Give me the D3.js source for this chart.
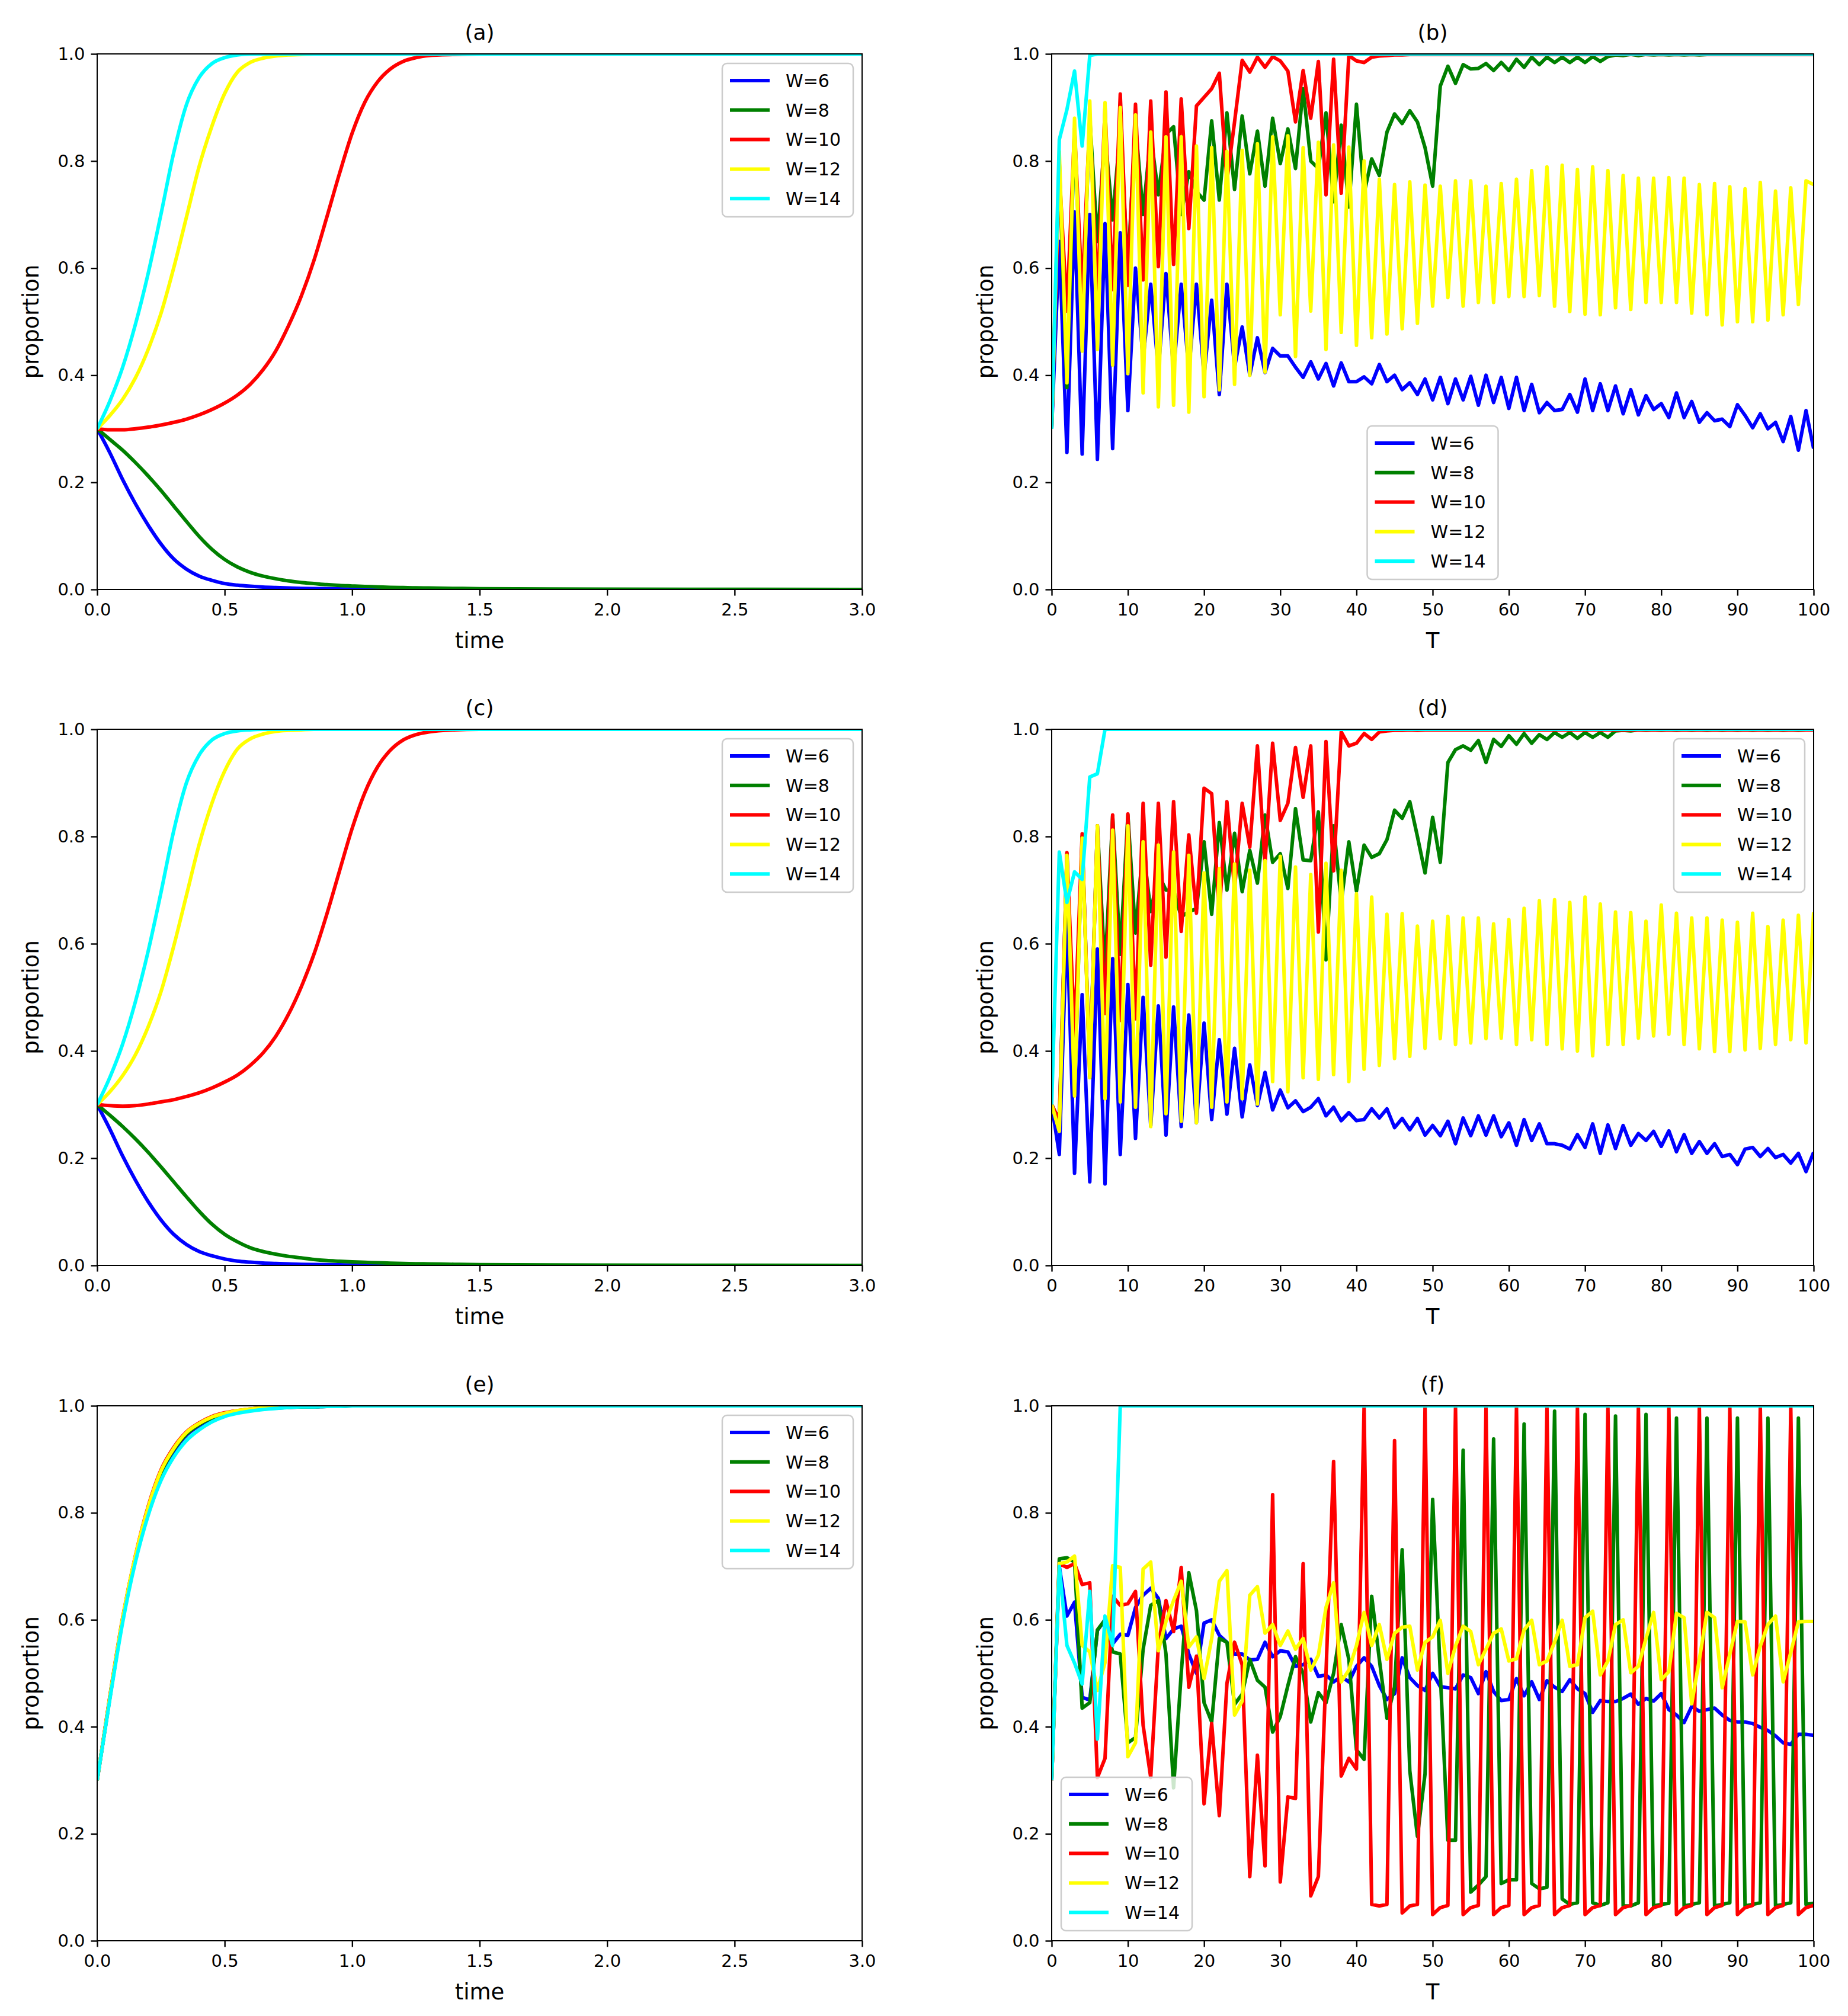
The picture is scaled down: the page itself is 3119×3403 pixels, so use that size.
<!DOCTYPE html>
<html>
<head>
<meta charset="utf-8">
<script src="https://cdn.jsdelivr.net/npm/d3@7"></script>
<style>
  body { margin: 0; background: #fff; }
  text { font-family: "DejaVu Sans", sans-serif; }
</style>
</head>
<body>
<div class="chart"></div>
<script>
// ---- data ----
var seriesLabels = ["W=6", "W=8", "W=10", "W=12", "W=14"];
var seriesColors = ["#0000ff", "#008000", "#ff0000", "#ffff00", "#00ffff"];

var timeTicks = [0, 0.5, 1.0, 1.5, 2.0, 2.5, 3.0];
var stepTicks = [0, 10, 20, 30, 40, 50, 60, 70, 80, 90, 100];
var yTicks = [0, 0.2, 0.4, 0.6, 0.8, 1.0];

// sample times for the continuous panels (a), (c), (e)
var tGrid = [0, 0.05, 0.1, 0.15, 0.2, 0.25, 0.3, 0.35, 0.4, 0.45, 0.5, 0.55, 0.6, 0.65, 0.7, 0.75,
    0.8, 0.85, 0.9, 0.95, 1.0, 1.05, 1.1, 1.15, 1.2, 1.25, 1.3, 1.4, 1.5, 2.0, 2.5, 3.0];

// (a)
var aBlue = [0.30, 0.255, 0.205, 0.16, 0.12, 0.085, 0.057, 0.038, 0.025, 0.017, 0.011, 0.008, 0.006, 0.0045, 0.0035, 0.0027,
    0.002, 0.0016, 0.0013, 0.001, 0.0008, 0.0006, 0.0005, 0.0004, 0.0003, 0.0002, 0.0002, 0.0001, 0.0001, 0, 0, 0];
var aGreen = [0.30, 0.28, 0.26, 0.237, 0.212, 0.185, 0.156, 0.127, 0.099, 0.075, 0.056, 0.042, 0.032, 0.025, 0.020, 0.016,
    0.013, 0.011, 0.009, 0.0075, 0.0065, 0.0055, 0.0048, 0.004, 0.0035, 0.003, 0.0027, 0.002, 0.0015, 0.0005, 0.0002, 0.0001];
var aRed = [0.30, 0.298, 0.298, 0.30, 0.303, 0.307, 0.312, 0.318, 0.326, 0.336, 0.348, 0.363, 0.383, 0.41, 0.445, 0.492,
    0.547, 0.614, 0.694, 0.776, 0.852, 0.91, 0.948, 0.972, 0.986, 0.993, 0.997, 0.999, 1.0, 1.0, 1.0, 1.0];
var aYellow = [0.30, 0.325, 0.355, 0.395, 0.448, 0.515, 0.60, 0.695, 0.79, 0.865, 0.926, 0.966, 0.984, 0.992, 0.996, 0.998,
    0.999, 1, 1, 1, 1, 1, 1, 1, 1, 1, 1, 1, 1, 1, 1, 1];
var aCyan = [0.30, 0.352, 0.415, 0.495, 0.59, 0.70, 0.815, 0.905, 0.956, 0.982, 0.993, 0.998, 1, 1, 1, 1,
    1, 1, 1, 1, 1, 1, 1, 1, 1, 1, 1, 1, 1, 1, 1, 1];

// (c)
var cBlue = [0.30, 0.254, 0.204, 0.159, 0.119, 0.085, 0.058, 0.039, 0.026, 0.018, 0.012, 0.008, 0.006, 0.0045, 0.0035, 0.0027,
    0.002, 0.0016, 0.0013, 0.001, 0.0008, 0.0006, 0.0005, 0.0004, 0.0003, 0.0002, 0.0002, 0.0001, 0.0001, 0, 0, 0];
var cGreen = [0.30, 0.28, 0.259, 0.236, 0.211, 0.184, 0.156, 0.128, 0.101, 0.077, 0.058, 0.044, 0.033, 0.026, 0.021, 0.017,
    0.014, 0.011, 0.009, 0.0078, 0.0067, 0.0057, 0.005, 0.0042, 0.0036, 0.0031, 0.0028, 0.002, 0.0015, 0.0005, 0.0002, 0.0001];
var cRed = [0.30, 0.298, 0.297, 0.298, 0.301, 0.305, 0.309, 0.315, 0.322, 0.331, 0.342, 0.355, 0.373, 0.396, 0.427, 0.468,
    0.519, 0.58, 0.654, 0.735, 0.815, 0.882, 0.93, 0.961, 0.98, 0.99, 0.995, 0.999, 1.0, 1.0, 1.0, 1.0];
var cYellow = [0.30, 0.324, 0.354, 0.393, 0.445, 0.51, 0.595, 0.69, 0.785, 0.862, 0.922, 0.963, 0.982, 0.991, 0.996, 0.998,
    0.999, 1, 1, 1, 1, 1, 1, 1, 1, 1, 1, 1, 1, 1, 1, 1];
var cCyan = [0.30, 0.351, 0.413, 0.492, 0.586, 0.695, 0.81, 0.90, 0.952, 0.98, 0.992, 0.997, 0.999, 1, 1, 1,
    1, 1, 1, 1, 1, 1, 1, 1, 1, 1, 1, 1, 1, 1, 1, 1];

// (e)
var eBlue = [0.30, 0.455, 0.60, 0.715, 0.805, 0.872, 0.915, 0.945, 0.963, 0.976, 0.984, 0.989, 0.992, 0.994, 0.996, 0.997,
    0.998, 0.998, 0.999, 0.999, 1, 1, 1, 1, 1, 1, 1, 1, 1, 1, 1, 1];
var eGreen = [0.30, 0.456, 0.601, 0.717, 0.807, 0.875, 0.918, 0.947, 0.965, 0.977, 0.985, 0.99, 0.993, 0.995, 0.996, 0.997,
    0.998, 0.998, 0.999, 0.999, 1, 1, 1, 1, 1, 1, 1, 1, 1, 1, 1, 1];
var eRed = [0.30, 0.458, 0.604, 0.72, 0.812, 0.88, 0.922, 0.951, 0.968, 0.98, 0.987, 0.991, 0.994, 0.996, 0.997, 0.998,
    0.999, 0.999, 1, 1, 1, 1, 1, 1, 1, 1, 1, 1, 1, 1, 1, 1];
var eYellow = [0.30, 0.457, 0.603, 0.719, 0.81, 0.878, 0.92, 0.95, 0.967, 0.979, 0.986, 0.991, 0.994, 0.996, 0.997, 0.998,
    0.999, 0.999, 1, 1, 1, 1, 1, 1, 1, 1, 1, 1, 1, 1, 1, 1];
var eCyan = [0.30, 0.452, 0.595, 0.708, 0.795, 0.86, 0.904, 0.935, 0.955, 0.97, 0.98, 0.986, 0.99, 0.993, 0.995, 0.997,
    0.998, 0.998, 0.999, 0.999, 1, 1, 1, 1, 1, 1, 1, 1, 1, 1, 1, 1];

// (b) one value per step T = 0..100
var bBlue = [0.30, 0.65, 0.256, 0.705, 0.253, 0.70, 0.243, 0.683, 0.263, 0.666,
    0.334, 0.60, 0.43, 0.57, 0.41, 0.59, 0.41, 0.57, 0.41, 0.57,
    0.40, 0.54, 0.364, 0.57, 0.415, 0.49, 0.40, 0.47, 0.405, 0.45,
    0.436, 0.436, 0.415, 0.396, 0.425, 0.393, 0.422, 0.38, 0.423, 0.388,
    0.388, 0.397, 0.384, 0.42, 0.388, 0.40, 0.373, 0.386, 0.364, 0.393,
    0.354, 0.396, 0.347, 0.393, 0.354, 0.398, 0.344, 0.40, 0.349, 0.396,
    0.338, 0.396, 0.334, 0.383, 0.33, 0.349, 0.334, 0.336, 0.364, 0.331,
    0.393, 0.334, 0.384, 0.334, 0.38, 0.328, 0.373, 0.326, 0.362, 0.336,
    0.347, 0.321, 0.367, 0.321, 0.351, 0.312, 0.33, 0.315, 0.318, 0.304,
    0.345, 0.325, 0.302, 0.328, 0.30, 0.312, 0.276, 0.323, 0.26, 0.334,
    0.263];
var bGreen = [0.30, 0.80, 0.377, 0.86, 0.50, 0.88, 0.65, 0.85, 0.69, 0.86,
    0.60, 0.87, 0.70, 0.85, 0.737, 0.85, 0.864, 0.70, 0.78, 0.743,
    0.727, 0.875, 0.727, 0.89, 0.747, 0.884, 0.776, 0.856, 0.753, 0.88,
    0.795, 0.86, 0.786, 0.935, 0.80, 0.786, 0.89, 0.724, 0.867, 0.714,
    0.906, 0.74, 0.804, 0.773, 0.854, 0.888, 0.87, 0.894, 0.873, 0.825,
    0.753, 0.94, 0.977, 0.945, 0.98, 0.972, 0.973, 0.982, 0.969, 0.984,
    0.969, 0.99, 0.975, 0.994, 0.98, 0.994, 0.984, 0.994, 0.984, 0.994,
    0.984, 0.995, 0.986, 0.995, 0.998, 0.997, 0.999, 0.997, 0.999, 0.998,
    0.999, 0.998, 0.999, 0.998, 0.999, 0.998, 0.999, 0.999, 0.999, 0.999,
    0.999, 0.999, 0.999, 0.999, 0.999, 0.999, 0.999, 0.999, 0.999, 0.999,
    0.999];
var bRed = [0.30, 0.78, 0.52, 0.86, 0.55, 0.88, 0.55, 0.90, 0.56, 0.925,
    0.568, 0.906, 0.578, 0.912, 0.603, 0.929, 0.607, 0.916, 0.674, 0.903,
    0.919, 0.935, 0.964, 0.763, 0.873, 0.988, 0.966, 0.994, 0.975, 0.995,
    0.987, 0.968, 0.873, 0.969, 0.88, 0.986, 0.737, 0.99, 0.74, 0.997,
    0.987, 0.984, 0.994, 0.996, 0.997, 0.998, 0.998, 0.999, 0.999, 0.999,
    0.999, 0.999, 0.999, 0.999, 0.999, 0.999, 0.999, 0.999, 0.999, 0.999,
    0.999, 0.999, 0.999, 0.999, 0.999, 0.999, 0.999, 0.999, 0.999, 0.999,
    0.999, 0.999, 0.999, 0.999, 0.999, 0.999, 0.999, 0.999, 0.999, 0.999,
    0.999, 0.999, 0.999, 0.999, 0.999, 0.999, 0.999, 0.999, 0.999, 0.999,
    0.999, 0.999, 0.999, 0.999, 0.999, 0.999, 0.999, 0.999, 0.999, 0.999,
    0.999];
var bYellow = [0.30, 0.818, 0.386, 0.88, 0.445, 0.912, 0.448, 0.909, 0.419, 0.90,
    0.403, 0.886, 0.367, 0.854, 0.341, 0.845, 0.344, 0.845, 0.331, 0.828,
    0.36, 0.825, 0.373, 0.818, 0.383, 0.82, 0.40, 0.832, 0.406, 0.845,
    0.513, 0.847, 0.435, 0.825, 0.52, 0.835, 0.448, 0.83, 0.48, 0.826,
    0.456, 0.80, 0.47, 0.766, 0.477, 0.756, 0.487, 0.761, 0.497, 0.755,
    0.529, 0.753, 0.545, 0.763, 0.529, 0.763, 0.536, 0.753, 0.536, 0.758,
    0.547, 0.766, 0.547, 0.782, 0.549, 0.789, 0.529, 0.792, 0.519, 0.784,
    0.514, 0.789, 0.513, 0.782, 0.526, 0.773, 0.523, 0.768, 0.536, 0.768,
    0.536, 0.769, 0.536, 0.768, 0.516, 0.756, 0.513, 0.758, 0.494, 0.752,
    0.50, 0.748, 0.50, 0.76, 0.503, 0.744, 0.513, 0.75, 0.532, 0.763,
    0.756];
var bCyan = [0.30, 0.84, 0.896, 0.968, 0.828, 0.997, 1, 1, 1, 1,
    1, 1, 1, 1, 1, 1, 1, 1, 1, 1,
    1, 1, 1, 1, 1, 1, 1, 1, 1, 1,
    1, 1, 1, 1, 1, 1, 1, 1, 1, 1,
    1, 1, 1, 1, 1, 1, 1, 1, 1, 1,
    1, 1, 1, 1, 1, 1, 1, 1, 1, 1,
    1, 1, 1, 1, 1, 1, 1, 1, 1, 1,
    1, 1, 1, 1, 1, 1, 1, 1, 1, 1,
    1, 1, 1, 1, 1, 1, 1, 1, 1, 1,
    1, 1, 1, 1, 1, 1, 1, 1, 1, 1,
    1];

// (d)
var dBlue = [0.30, 0.207, 0.645, 0.172, 0.505, 0.156, 0.59, 0.152, 0.572, 0.207,
    0.524, 0.237, 0.50, 0.26, 0.484, 0.243, 0.482, 0.259, 0.467, 0.266,
    0.452, 0.272, 0.421, 0.282, 0.405, 0.277, 0.374, 0.298, 0.36, 0.29,
    0.327, 0.294, 0.307, 0.287, 0.295, 0.311, 0.279, 0.295, 0.27, 0.285,
    0.27, 0.272, 0.292, 0.275, 0.292, 0.257, 0.274, 0.253, 0.274, 0.243,
    0.261, 0.242, 0.269, 0.227, 0.275, 0.242, 0.279, 0.243, 0.279, 0.24,
    0.266, 0.224, 0.272, 0.233, 0.264, 0.227, 0.227, 0.224, 0.217, 0.244,
    0.22, 0.264, 0.209, 0.262, 0.218, 0.261, 0.224, 0.246, 0.233, 0.25,
    0.222, 0.251, 0.212, 0.244, 0.209, 0.231, 0.209, 0.227, 0.203, 0.207,
    0.188, 0.217, 0.22, 0.203, 0.218, 0.201, 0.207, 0.191, 0.209, 0.175,
    0.211];
var dGreen = [0.30, 0.27, 0.768, 0.32, 0.80, 0.36, 0.82, 0.55, 0.838, 0.58,
    0.84, 0.62, 0.78, 0.66, 0.73, 0.70, 0.70, 0.65, 0.66, 0.665,
    0.79, 0.655, 0.826, 0.70, 0.806, 0.697, 0.774, 0.713, 0.84, 0.752,
    0.768, 0.703, 0.852, 0.756, 0.755, 0.846, 0.57, 0.82, 0.677, 0.79,
    0.698, 0.784, 0.761, 0.768, 0.794, 0.849, 0.834, 0.865, 0.80, 0.732,
    0.836, 0.752, 0.938, 0.962, 0.969, 0.961, 0.979, 0.938, 0.981, 0.968,
    0.988, 0.972, 0.992, 0.974, 0.99, 0.981, 0.994, 0.985, 0.994, 0.983,
    0.994, 0.985, 0.994, 0.985, 0.997, 0.998, 0.997, 0.999, 0.998, 0.999,
    0.998, 0.999, 0.998, 0.999, 0.998, 0.999, 0.998, 0.999, 0.998, 0.999,
    0.998, 0.999, 0.998, 0.999, 0.998, 0.999, 0.998, 0.999, 0.998, 0.999,
    0.999];
var dRed = [0.30, 0.27, 0.77, 0.43, 0.805, 0.353, 0.82, 0.47, 0.84, 0.457,
    0.842, 0.46, 0.862, 0.56, 0.862, 0.575, 0.865, 0.623, 0.803, 0.657,
    0.89, 0.88, 0.66, 0.865, 0.703, 0.862, 0.78, 0.969, 0.749, 0.974,
    0.83, 0.862, 0.966, 0.873, 0.969, 0.622, 0.977, 0.736, 0.995, 0.969,
    0.974, 0.992, 0.981, 0.995, 0.997, 0.998, 0.998, 0.999, 0.998, 0.999,
    0.999, 0.999, 0.999, 0.999, 0.999, 0.999, 0.999, 0.999, 0.999, 0.999,
    0.999, 0.999, 0.999, 0.999, 0.999, 0.999, 0.999, 0.999, 0.999, 0.999,
    0.999, 0.999, 0.999, 0.999, 0.999, 0.999, 0.999, 0.999, 0.999, 0.999,
    0.999, 0.999, 0.999, 0.999, 0.999, 0.999, 0.999, 0.999, 0.999, 0.999,
    0.999, 0.999, 0.999, 0.999, 0.999, 0.999, 0.999, 0.999, 0.999, 0.999,
    0.999];
var dYellow = [0.30, 0.25, 0.765, 0.316, 0.797, 0.35, 0.82, 0.311, 0.812, 0.305,
    0.82, 0.295, 0.79, 0.259, 0.784, 0.283, 0.771, 0.269, 0.765, 0.266,
    0.732, 0.295, 0.74, 0.305, 0.749, 0.311, 0.737, 0.301, 0.755, 0.343,
    0.763, 0.324, 0.743, 0.35, 0.729, 0.347, 0.75, 0.356, 0.737, 0.343,
    0.693, 0.366, 0.687, 0.373, 0.655, 0.386, 0.656, 0.39, 0.633, 0.405,
    0.642, 0.423, 0.651, 0.412, 0.648, 0.415, 0.648, 0.423, 0.637, 0.424,
    0.645, 0.412, 0.666, 0.421, 0.68, 0.412, 0.682, 0.404, 0.677, 0.40,
    0.687, 0.391, 0.674, 0.412, 0.659, 0.412, 0.658, 0.424, 0.642, 0.428,
    0.672, 0.431, 0.657, 0.412, 0.648, 0.404, 0.648, 0.399, 0.644, 0.399,
    0.64, 0.402, 0.657, 0.405, 0.632, 0.412, 0.644, 0.421, 0.653, 0.415,
    0.659];
var dCyan = [0.30, 0.771, 0.677, 0.734, 0.72, 0.911, 0.917, 1, 1, 1,
    1, 1, 1, 1, 1, 1, 1, 1, 1, 1,
    1, 1, 1, 1, 1, 1, 1, 1, 1, 1,
    1, 1, 1, 1, 1, 1, 1, 1, 1, 1,
    1, 1, 1, 1, 1, 1, 1, 1, 1, 1,
    1, 1, 1, 1, 1, 1, 1, 1, 1, 1,
    1, 1, 1, 1, 1, 1, 1, 1, 1, 1,
    1, 1, 1, 1, 1, 1, 1, 1, 1, 1,
    1, 1, 1, 1, 1, 1, 1, 1, 1, 1,
    1, 1, 1, 1, 1, 1, 1, 1, 1, 1,
    1];

// (f)
var fBlue = [0.30, 0.70, 0.607, 0.633, 0.455, 0.45, 0.58, 0.60, 0.555, 0.573,
    0.571, 0.623, 0.646, 0.659, 0.64, 0.565, 0.583, 0.588, 0.536, 0.50,
    0.594, 0.60, 0.571, 0.558, 0.536, 0.536, 0.525, 0.526, 0.558, 0.531,
    0.542, 0.54, 0.513, 0.516, 0.526, 0.494, 0.497, 0.484, 0.494, 0.484,
    0.513, 0.529, 0.513, 0.477, 0.451, 0.462, 0.529, 0.492, 0.477, 0.468,
    0.50, 0.475, 0.473, 0.471, 0.497, 0.492, 0.462, 0.503, 0.466, 0.449,
    0.451, 0.49, 0.458, 0.484, 0.451, 0.486, 0.474, 0.466, 0.488, 0.471,
    0.462, 0.427, 0.449, 0.447, 0.447, 0.453, 0.461, 0.442, 0.453, 0.448,
    0.462, 0.432, 0.422, 0.408, 0.438, 0.429, 0.432, 0.435, 0.422, 0.412,
    0.409, 0.409, 0.406, 0.399, 0.393, 0.383, 0.37, 0.367, 0.386, 0.386,
    0.384];
var fGreen = [0.30, 0.714, 0.716, 0.708, 0.435, 0.445, 0.581, 0.60, 0.54, 0.536,
    0.37, 0.38, 0.545, 0.627, 0.636, 0.536, 0.286, 0.50, 0.688, 0.617,
    0.445, 0.409, 0.565, 0.558, 0.442, 0.461, 0.526, 0.487, 0.474, 0.39,
    0.419, 0.477, 0.531, 0.50, 0.409, 0.464, 0.445, 0.50, 0.591, 0.526,
    0.357, 0.339, 0.644, 0.526, 0.416, 0.474, 0.731, 0.318, 0.195, 0.312,
    0.825, 0.50, 0.188, 0.188, 0.917, 0.091, 0.104, 0.12, 0.938, 0.107,
    0.114, 0.114, 0.966, 0.107, 0.097, 0.10, 0.99, 0.078, 0.068, 0.071,
    0.984, 0.071, 0.066, 0.071, 0.981, 0.065, 0.065, 0.071, 0.984, 0.065,
    0.068, 0.07, 0.977, 0.065, 0.068, 0.071, 0.977, 0.065, 0.068, 0.071,
    0.977, 0.065, 0.068, 0.071, 0.977, 0.065, 0.068, 0.071, 0.977, 0.068,
    0.07];
var fRed = [0.30, 0.705, 0.698, 0.705, 0.666, 0.669, 0.305, 0.341, 0.644, 0.627,
    0.63, 0.653, 0.403, 0.305, 0.552, 0.636, 0.578, 0.698, 0.474, 0.532,
    0.256, 0.406, 0.234, 0.481, 0.558, 0.516, 0.12, 0.347, 0.14, 0.834,
    0.11, 0.269, 0.266, 0.705, 0.084, 0.12, 0.50, 0.896, 0.308, 0.341,
    0.321, 0.997, 0.068, 0.065, 0.068, 0.935, 0.052, 0.065, 0.068, 0.997,
    0.049, 0.062, 0.066, 0.997, 0.049, 0.062, 0.066, 0.997, 0.049, 0.062,
    0.066, 0.997, 0.049, 0.062, 0.066, 0.997, 0.049, 0.062, 0.066, 0.997,
    0.049, 0.062, 0.066, 0.997, 0.049, 0.062, 0.066, 0.997, 0.049, 0.062,
    0.066, 0.997, 0.049, 0.062, 0.066, 0.997, 0.049, 0.062, 0.066, 0.997,
    0.049, 0.062, 0.066, 0.997, 0.049, 0.062, 0.066, 0.997, 0.049, 0.062,
    0.066];
var fYellow = [0.30, 0.705, 0.708, 0.719, 0.552, 0.54, 0.468, 0.52, 0.701, 0.698,
    0.344, 0.37, 0.695, 0.708, 0.542, 0.597, 0.636, 0.672, 0.549, 0.568,
    0.49, 0.565, 0.672, 0.692, 0.422, 0.448, 0.646, 0.662, 0.575, 0.591,
    0.552, 0.579, 0.545, 0.565, 0.506, 0.534, 0.623, 0.669, 0.484, 0.506,
    0.552, 0.614, 0.552, 0.591, 0.526, 0.575, 0.586, 0.588, 0.506, 0.558,
    0.568, 0.599, 0.50, 0.551, 0.588, 0.578, 0.516, 0.545, 0.575, 0.583,
    0.523, 0.527, 0.581, 0.599, 0.516, 0.523, 0.558, 0.599, 0.513, 0.516,
    0.604, 0.616, 0.497, 0.523, 0.591, 0.60, 0.501, 0.513, 0.565, 0.614,
    0.488, 0.503, 0.612, 0.604, 0.443, 0.526, 0.614, 0.604, 0.473, 0.536,
    0.597, 0.596, 0.497, 0.551, 0.591, 0.607, 0.484, 0.539, 0.596, 0.597,
    0.597];
var fCyan = [0.30, 0.70, 0.552, 0.519, 0.48, 0.653, 0.377, 0.607, 0.552, 1,
    1, 1, 1, 1, 1, 1, 1, 1, 1, 1,
    1, 1, 1, 1, 1, 1, 1, 1, 1, 1,
    1, 1, 1, 1, 1, 1, 1, 1, 1, 1,
    1, 1, 1, 1, 1, 1, 1, 1, 1, 1,
    1, 1, 1, 1, 1, 1, 1, 1, 1, 1,
    1, 1, 1, 1, 1, 1, 1, 1, 1, 1,
    1, 1, 1, 1, 1, 1, 1, 1, 1, 1,
    1, 1, 1, 1, 1, 1, 1, 1, 1, 1,
    1, 1, 1, 1, 1, 1, 1, 1, 1, 1,
    1];

// ---- layout ----
var width = 3119,
    height = 3403;

var cols = [{x0: 164, x1: 1455}, {x0: 1775, x1: 3061}];
var rows = [{y0: 91, y1: 995}, {y0: 1231, y1: 2136}, {y0: 2373, y1: 3276}];

var panels = [
    {title: "(a)", col: 0, row: 0, kind: "time", series: [aBlue, aGreen, aRed, aYellow, aCyan], legend: "upper right"},
    {title: "(b)", col: 1, row: 0, kind: "step", series: [bBlue, bGreen, bRed, bYellow, bCyan], legend: "lower center"},
    {title: "(c)", col: 0, row: 1, kind: "time", series: [cBlue, cGreen, cRed, cYellow, cCyan], legend: "upper right"},
    {title: "(d)", col: 1, row: 1, kind: "step", series: [dBlue, dGreen, dRed, dYellow, dCyan], legend: "upper right"},
    {title: "(e)", col: 0, row: 2, kind: "time", series: [eBlue, eGreen, eRed, eYellow, eCyan], legend: "upper right"},
    {title: "(f)", col: 1, row: 2, kind: "step", series: [fBlue, fGreen, fRed, fYellow, fCyan], legend: "lower left"}
];

var svg = d3.select(".chart").append("svg")
    .attr("width", width)
    .attr("height", height);

svg.append("rect")
    .attr("width", width)
    .attr("height", height)
    .attr("fill", "#fff");

panels.forEach(drawPanel);

function drawPanel(p, n) {
    var c = cols[p.col], r = rows[p.row];
    var w = c.x1 - c.x0, h = r.y1 - r.y0;

    var x = d3.scaleLinear()
        .domain(p.kind == "time" ? [0, 3] : [0, 100])
        .range([c.x0, c.x1]);
    var y = d3.scaleLinear()
        .domain([0, 1])
        .range([r.y1, r.y0]);

    var g = svg.append("g");

    g.append("clipPath").attr("id", "clip" + n)
        .append("rect")
        .attr("x", c.x0).attr("y", r.y0)
        .attr("width", w).attr("height", h);

    var line = d3.line()
        .x(function (d, i) { return p.kind == "time" ? x(tGrid[i]) : x(i); })
        .y(function (d) { return y(d); })
        .curve(p.kind == "time" ? d3.curveMonotoneX : d3.curveLinear);

    g.append("g")
        .attr("clip-path", "url(#clip" + n + ")")
        .selectAll("path")
        .data(p.series)
        .enter().append("path")
        .attr("d", line)
        .attr("fill", "none")
        .attr("stroke", function (d, i) { return seriesColors[i]; })
        .attr("stroke-width", 6)
        .attr("stroke-linejoin", "round");

    // axes
    var xAxis = d3.axisBottom(x)
        .tickValues(p.kind == "time" ? timeTicks : stepTicks)
        .tickFormat(p.kind == "time" ? d3.format(".1f") : d3.format("d"))
        .tickSize(10.5)
        .tickPadding(13);
    var yAxis = d3.axisLeft(y)
        .tickValues(yTicks)
        .tickFormat(d3.format(".1f"))
        .tickSize(10.5)
        .tickPadding(10);

    var gx = g.append("g").attr("transform", "translate(0," + r.y1 + ")").call(xAxis);
    var gy = g.append("g").attr("transform", "translate(" + c.x0 + ",0)").call(yAxis);
    [gx, gy].forEach(function (a) {
        a.select(".domain").remove();
        a.attr("font-size", 29).attr("font-family", "DejaVu Sans");
        a.selectAll("line").attr("stroke", "#000").attr("stroke-width", 2.4);
        a.selectAll("text").attr("fill", "#000");
    });

    // spines
    g.append("rect")
        .attr("x", c.x0).attr("y", r.y0)
        .attr("width", w).attr("height", h)
        .attr("fill", "none")
        .attr("stroke", "#000")
        .attr("stroke-width", 2);

    // labels
    g.append("text")
        .attr("x", (c.x0 + c.x1) / 2)
        .attr("y", r.y0 - 24)
        .attr("text-anchor", "middle")
        .attr("font-size", 36)
        .text(p.title);

    g.append("text")
        .attr("x", (c.x0 + c.x1) / 2)
        .attr("y", r.y1 + 99)
        .attr("text-anchor", "middle")
        .attr("font-size", 37)
        .text(p.kind == "time" ? "time" : "T");

    g.append("text")
        .attr("transform", "translate(" + (c.x0 - 99) + "," + ((r.y0 + r.y1) / 2) + ") rotate(-90)")
        .attr("text-anchor", "middle")
        .attr("font-size", 37)
        .text("proportion");

    drawLegend(g, p.legend, c, r);
}

function drawLegend(g, where, c, r) {
    var lw = 221, lh = 259;
    var lx, ly;
    if (where == "upper right") {
        lx = c.x1 - 15 - lw;
        ly = r.y0 + 16;
    } else if (where == "lower center") {
        lx = (c.x0 + c.x1) / 2 - lw / 2;
        ly = r.y1 - 17 - lh;
    } else { // lower left
        lx = c.x0 + 16;
        ly = r.y1 - 17 - lh;
    }

    var lg = g.append("g").attr("transform", "translate(" + lx + "," + ly + ")");
    lg.append("rect")
        .attr("width", lw).attr("height", lh)
        .attr("rx", 8).attr("ry", 8)
        .attr("fill", "#fff").attr("fill-opacity", 0.8)
        .attr("stroke", "#cccccc").attr("stroke-width", 2.5);

    var item = lg.selectAll("g.item")
        .data(seriesLabels)
        .enter().append("g")
        .attr("class", "item")
        .attr("transform", function (d, i) { return "translate(0," + (29 + i * 49.8) + ")"; });

    item.append("line")
        .attr("x1", 13).attr("x2", 80)
        .attr("stroke", function (d, i) { return seriesColors[i]; })
        .attr("stroke-width", 6);

    item.append("text")
        .attr("x", 107)
        .attr("dy", "0.36em")
        .attr("font-size", 30)
        .text(function (d) { return d; });
}
</script>
</body>
</html>
